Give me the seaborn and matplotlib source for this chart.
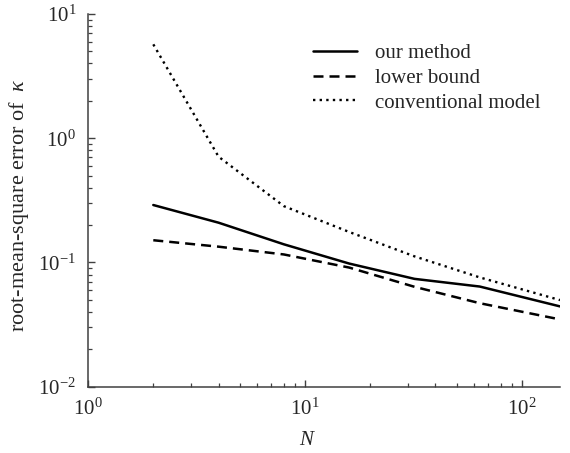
import matplotlib
matplotlib.use("Agg")
import matplotlib.pyplot as plt
import seaborn as sns
import pandas as pd
import numpy as np
from matplotlib.ticker import LogLocator, NullFormatter

# ---- data ----
N_values = [2, 4, 8, 16, 32, 64, 150]
our_method = [0.29, 0.209, 0.14, 0.098, 0.0738, 0.064, 0.0443]
lower_bound = [0.151, 0.134, 0.116, 0.091, 0.0637, 0.047, 0.0348]
conventional = [5.7, 0.71, 0.284, 0.176, 0.112, 0.0758, 0.0498]
series_names = ["our method", "lower bound", "conventional model"]

sns.set_style("ticks")
plt.rcParams["font.family"] = ["Liberation Serif", "DejaVu Serif"]
plt.rcParams["mathtext.fontset"] = "custom"
plt.rcParams["mathtext.rm"] = "Liberation Serif"
plt.rcParams["mathtext.it"] = "Liberation Serif:italic"

df = pd.DataFrame({
    "N": N_values * 3,
    "rmse": our_method + lower_bound + conventional,
    "series": [series_names[0]] * len(N_values)
              + [series_names[1]] * len(N_values)
              + [series_names[2]] * len(N_values),
})

fig = plt.figure(figsize=(5.70, 4.53), dpi=100)
ax = fig.add_axes([88 / 570, 1 - 386.7 / 453, (560 - 88) / 570, (386.7 - 14) / 453])

styles = {
    series_names[0]: dict(linestyle="-", linewidth=1.8),
    series_names[1]: dict(linestyle=(0, (4.0, 2.4)), linewidth=1.8),
    series_names[2]: dict(linestyle=(0, (1, 1.8)), linewidth=1.7),
}
for name in series_names:
    sub = df[df["series"] == name]
    sns.lineplot(data=sub, x="N", y="rmse", ax=ax, color="black",
                 label=name, **styles[name])

ax.set_xscale("log")
ax.set_yscale("log")
ax.set_xlim(1, 150)
ax.set_ylim(1e-2, 1e1)

ax.xaxis.set_major_locator(LogLocator(base=10, numticks=10))
ax.yaxis.set_major_locator(LogLocator(base=10, numticks=10))
ax.xaxis.set_minor_locator(LogLocator(base=10, subs=np.arange(2, 10), numticks=20))
ax.yaxis.set_minor_locator(LogLocator(base=10, subs=np.arange(2, 10), numticks=20))
ax.xaxis.set_minor_formatter(NullFormatter())
ax.yaxis.set_minor_formatter(NullFormatter())

for s in ["top", "right"]:
    ax.spines[s].set_visible(False)
for s in ["left", "bottom"]:
    ax.spines[s].set_color("#404040")
    ax.spines[s].set_linewidth(1.1)

ax.tick_params(which="major", direction="in", length=5, width=1.0,
               color="#404040", labelsize=15, pad=8.5)
ax.tick_params(which="minor", direction="in", length=3, width=0.9,
               color="#404040")

ax.set_xlabel(r"$\mathit{N}$", fontsize=15)
ax.set_ylabel(r"root-mean-square error of  $\mathit{\kappa}$", fontsize=16)
ax.xaxis.set_label_coords(0.466, -0.12)
ax.yaxis.set_label_coords(-0.12, 0.4875)

ax.legend(loc="upper left", bbox_to_anchor=(0.477, 0.921), frameon=False,
          fontsize=15, handlelength=2.1, handletextpad=0.85,
          labelspacing=0.25, borderpad=0, borderaxespad=0)

fig.savefig("out.png", dpi=100)
